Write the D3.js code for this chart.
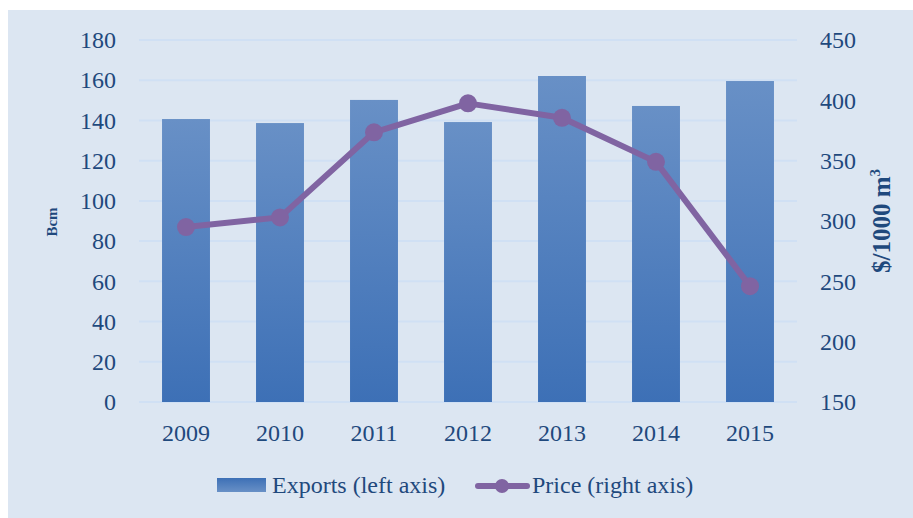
<!DOCTYPE html>
<html><head><meta charset="utf-8">
<script src="https://cdn.jsdelivr.net/npm/d3@7"></script>
<style>
html,body{margin:0;padding:0;background:#fff;}
svg{display:block;}
text{font-family:"Liberation Serif","DejaVu Serif",serif;fill:#1f497d;}
</style></head>
<body>
<svg id="c" width="913" height="518"></svg>
<script>
const years = ["2009","2010","2011","2012","2013","2014","2015"];
const exportsBcm = [140.7, 138.7, 150.2, 139.2, 162.1, 147.2, 159.6];
const priceUsd = [295, 303, 373.5, 397.5, 385.5, 349, 246];
const leftTicks = [0,20,40,60,80,100,120,140,160,180];
const rightTicks = [150,200,250,300,350,400,450];

const svg = d3.select("#c");
const W=913,H=518;
svg.append("rect").attr("x",8).attr("y",10).attr("width",W-8).attr("height",H-10).attr("fill","#dce6f2");

const defs = svg.append("defs");
const g1 = defs.append("linearGradient").attr("id","barG").attr("x1",0).attr("y1",0).attr("x2",0).attr("y2",1);
g1.append("stop").attr("offset","0%").attr("stop-color","#6890c6");
g1.append("stop").attr("offset","100%").attr("stop-color","#3d70b6");
const g2 = defs.append("linearGradient").attr("id","legG").attr("x1",0).attr("y1",0).attr("x2",0).attr("y2",1);
g2.append("stop").attr("offset","0%").attr("stop-color","#3d70b6");
g2.append("stop").attr("offset","100%").attr("stop-color","#6890c6");

const x0=139,x1=797,yTop=40,yBot=402;
const x = d3.scaleBand().domain(years).range([x0,x1]).paddingInner(0.49).paddingOuter(0.245);
const yL = d3.scaleLinear().domain([0,180]).range([yBot,yTop]);
const yR = d3.scaleLinear().domain([150,450]).range([yBot,yTop]);

// gridlines
svg.append("g").selectAll("line").data(leftTicks).join("line")
  .attr("x1",x0).attr("x2",x1).attr("y1",d=>yL(d)).attr("y2",d=>yL(d))
  .attr("stroke","#d0e0f4").attr("stroke-width",2);

// left axis
const axL = svg.append("g").attr("transform",`translate(${x0},0)`)
  .call(d3.axisLeft(yL).tickValues(leftTicks).tickSize(0).tickPadding(23));
axL.select(".domain").remove();
axL.selectAll("text").style("font-size","24px").style("fill","#1f497d").style("font-family","Liberation Serif");

// right axis
const axR = svg.append("g").attr("transform",`translate(${x1},0)`)
  .call(d3.axisRight(yR).tickValues(rightTicks).tickSize(0).tickPadding(23));
axR.select(".domain").remove();
axR.selectAll("text").style("font-size","24px").style("fill","#1f497d").style("font-family","Liberation Serif");

// bars
svg.append("g").selectAll("rect").data(years).join("rect")
  .attr("x",d=>x(d)).attr("width",x.bandwidth())
  .attr("y",(d,i)=>yL(exportsBcm[i])).attr("height",(d,i)=>yBot-yL(exportsBcm[i]))
  .attr("fill","url(#barG)");

// bottom axis
const axB = svg.append("g").attr("transform",`translate(0,${yBot})`)
  .call(d3.axisBottom(x).tickSize(0).tickPadding(22));
axB.select(".domain").remove();
axB.selectAll("text").style("font-size","24px").style("fill","#1f497d").style("font-family","Liberation Serif");

// price line
const cx = d=>x(d)+x.bandwidth()/2;
const line = d3.line().x((d,i)=>cx(years[i])).y(d=>yR(d));
svg.append("path").datum(priceUsd).attr("d",line).attr("fill","none")
  .attr("stroke","#8064a2").attr("stroke-width",6).attr("stroke-linejoin","round");
svg.append("g").selectAll("circle").data(priceUsd).join("circle")
  .attr("cx",(d,i)=>cx(years[i])).attr("cy",d=>yR(d)).attr("r",9).attr("fill","#8064a2");

// axis titles
svg.append("text").attr("transform","translate(57,222) rotate(-90)").attr("text-anchor","middle")
  .style("font-size","15px").style("font-weight","bold").text("Bcm");
const rt = svg.append("text").attr("transform","translate(890,221) rotate(-90)").attr("text-anchor","middle")
  .style("font-size","25px").style("font-weight","bold");
rt.append("tspan").text("$/1000 m");
rt.append("tspan").attr("dy",-10).style("font-size","15px").text("3");

// legend
const lg = svg.append("g");
lg.append("rect").attr("x",217).attr("y",478).attr("width",49).attr("height",14).attr("fill","url(#legG)");
lg.append("text").attr("x",272).attr("y",493).style("font-size","24px").text("Exports (left axis)");
lg.append("line").attr("x1",478).attr("x2",527).attr("y1",486).attr("y2",486).attr("stroke","#8064a2").attr("stroke-width",6).attr("stroke-linecap","round");
lg.append("circle").attr("cx",502).attr("cy",486).attr("r",7).attr("fill","#8064a2");
lg.append("text").attr("x",532).attr("y",493).style("font-size","24px").text("Price (right axis)");
</script>
</body></html>
